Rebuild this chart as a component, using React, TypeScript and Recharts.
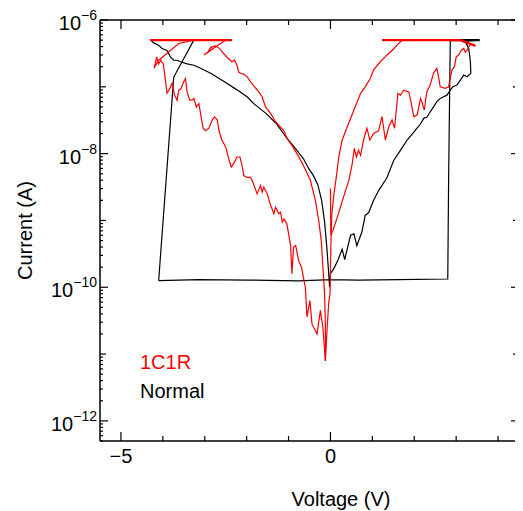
import { Line, LineChart, XAxis, YAxis } from "recharts"

const FONT = '"Liberation Sans", Arial, Helvetica, sans-serif'

// chart geometry (plot box edges inside the svg)
const CHART_W = 515
const CHART_H = 503
const MARGIN = { top: 12, right: 4, bottom: 69, left: 0 }
const PLOT_LEFT = 92
const PLOT_TOP = MARGIN.top
const PLOT_RIGHT = CHART_W - MARGIN.right
const PLOT_BOTTOM = CHART_H - MARGIN.bottom - 1

// x axis (voltage)
const xTicks = [-5, -4, -3, -2, -1, 0, 1, 2, 3, 4]
const xLabeled = [-5, 0]
const xDomain: [number, number] = [-5.5, 4.5]

// y axis (current, log) - decade exponents
const yDecades = [-13, -12, -11, -10, -9, -8, -7, -6]
const yLabeled = [-12, -10, -8, -6]
const yDomain: [number, number] = [5e-13, 1e-6]

// [voltage (V), current (A)]
const normalLoop: [number, number][] = [
  [-4.1, 1.26e-10], [-3.14, 1.3e-10], [-1.95, 1.28e-10], [-0.76, 1.25e-10], [0.0, 1.3e-10],
  [0.67, 1.28e-10], [1.63, 1.3e-10], [2.8, 1.33e-10],
  [2.82, 4.0e-9], [2.86, 5.0e-7], [3.56, 5.0e-7], [3.14, 4.8e-7],
  [3.22, 4.7e-7], [3.3, 3.75e-7], [3.34, 2.37e-7], [3.35, 1.6e-7], [3.26, 1.41e-7], [3.18, 1.5e-7],
  [3.1, 1.26e-7], [3.02, 1.06e-7], [2.92, 1.0e-7], [2.86, 8.9e-8], [2.78, 7.5e-8], [2.7, 7.1e-8],
  [2.62, 6.7e-8], [2.54, 6.0e-8], [2.46, 5.0e-8], [2.38, 4.2e-8], [2.3, 3.5e-8], [2.23, 3.4e-8],
  [2.15, 2.8e-8], [1.99, 2.1e-8], [1.83, 1.6e-8], [1.67, 1.12e-8], [1.51, 7.9e-9], [1.35, 4.4e-9],
  [1.31, 4.0e-9], [1.15, 2.8e-9], [1.03, 2.0e-9], [0.91, 1.3e-9], [0.83, 1.2e-9], [0.75, 6.7e-10],
  [0.63, 4.2e-10], [0.56, 6.3e-10], [0.48, 6.0e-10], [0.34, 2.6e-10], [0.28, 3.7e-10],
  [0.16, 2.4e-10], [0.08, 1.9e-10], [0.0, 1.6e-10], [-0.02, 1.0e-10],
  [-0.05, 1.9e-10], [-0.09, 4.2e-10], [-0.14, 9.5e-10], [-0.21, 2.0e-9], [-0.3, 3.4e-9],
  [-0.4, 4.6e-9], [-0.52, 6.0e-9], [-0.64, 8.3e-9], [-0.8, 1.12e-8], [-1.04, 1.7e-8],
  [-1.3, 2.85e-8], [-1.54, 4.0e-8], [-1.83, 5.6e-8], [-1.99, 7.1e-8], [-2.23, 9.0e-8],
  [-2.54, 1.2e-7], [-2.86, 1.6e-7], [-3.1, 1.9e-7], [-3.26, 2.1e-7], [-3.42, 2.2e-7],
  [-3.58, 2.37e-7], [-3.66, 2.5e-7], [-3.74, 2.5e-7], [-3.82, 2.8e-7], [-3.9, 3.5e-7],
  [-4.02, 3.75e-7], [-4.1, 4.2e-7], [-4.21, 4.5e-7], [-4.29, 5.0e-7],
  [-3.26, 5.0e-7], [-3.74, 1.4e-7], [-4.1, 1.26e-10],
]

const normalCompliance: [number, number][] = [[2.86, 5.0e-7], [3.56, 5.0e-7]]

const c1rComplianceLeft: [number, number][] = [[-4.29, 5.0e-7], [-2.35, 5.0e-7]]
const c1rComplianceRight: [number, number][] = [[1.23, 5.0e-7], [3.1, 5.0e-7], [3.46, 4.1e-7]]

const c1rUpperLeft: [number, number][] = [
  [-2.5, 5.0e-7], [-3.02, 3.0e-7], [-2.82, 3.7e-7], [-2.94, 3.2e-7], [-2.86, 3.9e-7],
  [-2.74, 4.1e-7], [-2.64, 3.7e-7], [-2.56, 3.2e-7], [-2.45, 2.7e-7], [-2.35, 2.37e-7],
  [-2.29, 2.5e-7], [-2.23, 2.1e-7], [-2.19, 1.66e-7], [-2.14, 1.58e-7], [-2.07, 1.55e-7],
  [-1.98, 1.4e-7], [-1.9, 1.17e-7], [-1.83, 1.03e-7], [-1.71, 8.4e-8], [-1.63, 7.1e-8],
  [-1.55, 5.0e-8], [-1.43, 4.0e-8], [-1.31, 3.0e-8], [-1.19, 2.5e-8], [-1.11, 2.2e-8],
  [-1.04, 1.7e-8], [-0.92, 1.33e-8], [-0.8, 1.0e-8], [-0.67, 7.1e-9], [-0.57, 5.3e-9],
  [-0.48, 4.0e-9], [-0.36, 2.0e-9], [-0.28, 1.0e-9], [-0.22, 5.0e-10], [-0.18, 2.0e-10],
  [-0.14, 7.9e-11], [-0.12, 2.5e-11], [-0.12, 7.9e-12],
]

const c1rLowerLeft: [number, number][] = [
  [-3.26, 5.0e-7], [-3.62, 4.45e-7], [-4.1, 2.5e-7], [-4.21, 1.9e-7],
  [-4.17, 2.37e-7], [-4.15, 2.8e-7], [-4.1, 2.2e-7], [-4.05, 2.5e-7], [-3.99, 2.2e-7],
  [-3.96, 1.6e-7], [-3.9, 8.0e-8], [-3.83, 9.5e-8], [-3.78, 1.13e-7], [-3.72, 7.5e-8],
  [-3.66, 6.3e-8], [-3.62, 8.9e-8], [-3.56, 9.5e-8], [-3.52, 1.13e-7], [-3.46, 1.33e-7],
  [-3.42, 8.4e-8], [-3.36, 6.3e-8], [-3.3, 6.3e-8], [-3.26, 6.7e-8], [-3.2, 5.0e-8],
  [-3.14, 5.6e-8], [-3.1, 4.0e-8], [-3.04, 2.4e-8], [-2.98, 2.2e-8], [-2.9, 2.4e-8],
  [-2.82, 3.2e-8], [-2.77, 3.55e-8], [-2.7, 3.2e-8], [-2.66, 2.2e-8], [-2.59, 1.6e-8],
  [-2.5, 1.26e-8], [-2.43, 8.5e-9], [-2.37, 6.3e-9], [-2.31, 7.1e-9], [-2.23, 8.9e-9],
  [-2.16, 8.9e-9], [-2.11, 6.7e-9], [-2.07, 4.7e-9], [-1.99, 4.4e-9], [-1.91, 4.4e-9],
  [-1.87, 4.0e-9], [-1.75, 2.5e-9], [-1.67, 3.35e-9], [-1.63, 2.65e-9], [-1.59, 3.15e-9],
  [-1.51, 2.5e-9], [-1.43, 1.7e-9], [-1.35, 1.26e-9], [-1.31, 1.58e-9], [-1.23, 1.26e-9],
  [-1.19, 1.33e-9], [-1.15, 9.4e-10], [-1.11, 1.05e-9], [-1.04, 8.9e-10], [-0.95, 4.2e-10],
  [-0.92, 1.6e-10], [-0.88, 4.0e-10], [-0.83, 4.2e-10], [-0.76, 2.5e-10], [-0.69, 2.0e-10],
  [-0.64, 1.35e-10], [-0.6, 1.0e-10], [-0.56, 3.6e-11], [-0.49, 6.3e-11], [-0.44, 2.8e-11],
  [-0.32, 2.0e-11], [-0.24, 4.5e-11], [-0.18, 2.5e-11], [-0.12, 7.9e-12],
]

const c1rRightSmooth: [number, number][] = [
  [-0.12, 7.9e-12], [-0.08, 2.4e-11], [-0.04, 6.0e-11], [-0.01, 8.0e-11], [0.01, 4.2e-10],
  [0.03, 1.2e-9], [0.08, 2.4e-9], [0.14, 4.5e-9], [0.2, 9.0e-9], [0.28, 1.6e-8], [0.4, 2.5e-8],
  [0.56, 4.5e-8], [0.72, 8.0e-8], [0.83, 1.0e-7], [0.95, 1.33e-7], [1.03, 1.8e-7],
  [1.19, 2.37e-7], [1.35, 3.0e-7], [1.47, 3.5e-7], [1.59, 4.2e-7], [1.71, 5.0e-7],
]

const c1rRightNoisy: [number, number][] = [
  [0.0, 3.0e-9], [0.01, 6.0e-10], [0.06, 7.1e-10], [0.16, 1.1e-9], [0.24, 1.6e-9],
  [0.36, 2.8e-9], [0.44, 4.0e-9], [0.52, 7.1e-9], [0.57, 1.2e-8], [0.62, 8.9e-9],
  [0.67, 1.12e-8], [0.72, 9.4e-9], [0.79, 1.6e-8], [0.87, 2.4e-8], [0.94, 1.6e-8],
  [1.03, 2.0e-8], [1.15, 2.2e-8], [1.23, 3.6e-8], [1.31, 1.6e-8], [1.39, 2.5e-8],
  [1.47, 3.2e-8], [1.53, 2.4e-8], [1.61, 8.0e-8], [1.67, 7.5e-8], [1.75, 8.9e-8],
  [1.87, 8.4e-8], [1.92, 6.0e-8], [1.99, 3.55e-8], [2.07, 3.8e-8], [2.15, 6.7e-8],
  [2.18, 6.0e-8], [2.24, 4.5e-8], [2.3, 8.4e-8], [2.38, 1.06e-7], [2.46, 1.6e-7],
  [2.54, 1.9e-7], [2.58, 1.41e-7], [2.62, 1.0e-7], [2.74, 9.5e-8], [2.82, 1.0e-7],
  [2.9, 1.8e-7], [2.96, 2.0e-7], [3.0, 2.8e-7], [3.06, 3.0e-7], [3.12, 3.5e-7],
  [3.18, 3.75e-7], [3.22, 3.3e-7], [3.26, 3.5e-7], [3.3, 4.0e-7], [3.34, 4.2e-7],
]

const toPts = (arr: [number, number][]) => arr.map(([v, i]) => ({ v, i }))

const yTicks: number[] = []
yDecades.forEach((k) => {
  for (let m = 1; m <= 9; m++) {
    const val = m * Math.pow(10, k)
    if (val >= yDomain[0] * 0.999 && val <= yDomain[1] * 1.001) yTicks.push(val)
  }
})

const decadeOf = (val: number) => {
  const e = Math.log10(val)
  const k = Math.round(e)
  return Math.abs(e - k) < 1e-6 ? k : null
}

const yTickLen = (val: number) => {
  const k = decadeOf(val)
  if (k === null) return 3
  return yLabeled.includes(k) ? 8 : 6
}

// left ticks, mirrored onto the right frame edge; the first tick also draws the frame box
const YTick = (props: any) => {
  const { x, y, payload, index } = props
  const k = decadeOf(payload.value)
  const labeled = k !== null && yLabeled.includes(k)
  const len = yTickLen(payload.value)
  return (
    <g>
      {index === 0 && (
        <path
          d={`M${PLOT_LEFT},${PLOT_TOP}H${PLOT_RIGHT}V${PLOT_BOTTOM}`}
          fill="none"
          stroke="#000"
          strokeWidth={1.5}
        />
      )}
      <line x1={x} x2={x + len} y1={y} y2={y} stroke="#000" strokeWidth={1.2} />
      <line x1={PLOT_RIGHT} x2={PLOT_RIGHT - len} y1={y} y2={y} stroke="#000" strokeWidth={1.2} />
      {labeled && (
        <text x={x - 3} y={y + 10} textAnchor="end" fontSize={20} fontFamily={FONT} fill="#000">
          <tspan>10</tspan>
          <tspan dy={-10} fontSize={14}>{"\u2212" + Math.abs(k as number)}</tspan>
        </text>
      )}
    </g>
  )
}

// bottom ticks, mirrored onto the top frame edge
const XTick = (props: any) => {
  const { x, y, payload } = props
  const labeled = xLabeled.includes(payload.value)
  const len = labeled ? 9 : 5
  return (
    <g>
      <line x1={x} x2={x} y1={y} y2={y - len} stroke="#000" strokeWidth={1.2} />
      <line x1={x} x2={x} y1={PLOT_TOP} y2={PLOT_TOP + len} stroke="#000" strokeWidth={1.2} />
      {labeled && (
        <text x={x} y={y + 22} textAnchor="middle" fontSize={20} fontFamily={FONT} fill="#000">
          {String(payload.value).replace("-", "\u2212")}
        </text>
      )}
    </g>
  )
}

const lineProps = {
  dataKey: "i",
  type: "linear" as const,
  dot: false,
  isAnimationActive: false,
  strokeWidth: 1.2,
}

export default function App() {
  return (
    <div style={{ width: CHART_W, height: CHART_H }}>
      <LineChart width={CHART_W} height={CHART_H} margin={MARGIN}>
        <XAxis
          dataKey="v"
          type="number"
          domain={xDomain}
          ticks={xTicks}
          interval={0}
          height={1}
          tickSize={0}
          tickMargin={0}
          tickLine={false}
          tick={XTick}
          axisLine={{ stroke: "#000", strokeWidth: 1.5 }}
          allowDataOverflow
        />
        <YAxis
          type="number"
          scale="log"
          domain={yDomain}
          ticks={yTicks}
          interval={0}
          width={92}
          tickSize={0}
          tickMargin={0}
          tickLine={false}
          tick={YTick}
          axisLine={{ stroke: "#000", strokeWidth: 1.5 }}
          allowDataOverflow
        />

        <Line {...lineProps} data={toPts(normalLoop)} stroke="#000" />
        <Line {...lineProps} data={toPts(normalCompliance)} stroke="#000" strokeWidth={2.2} />

        <Line {...lineProps} data={toPts(c1rUpperLeft)} stroke="#ff0000" />
        <Line {...lineProps} data={toPts(c1rLowerLeft)} stroke="#ff0000" />
        <Line {...lineProps} data={toPts(c1rRightSmooth)} stroke="#ff0000" />
        <Line {...lineProps} data={toPts(c1rRightNoisy)} stroke="#ff0000" />
        <Line {...lineProps} data={toPts(c1rComplianceLeft)} stroke="#ff0000" strokeWidth={2.2} />
        <Line {...lineProps} data={toPts(c1rComplianceRight)} stroke="#ff0000" strokeWidth={2.2} />

        <text x={132} y={361} fontSize={20} fontFamily={FONT} fill="#ff0000">
          1C1R
        </text>
        <text x={132} y={390} fontSize={20} fontFamily={FONT} fill="#000">
          Normal
        </text>
        <text x={333} y={498} textAnchor="middle" fontSize={20} fontFamily={FONT} fill="#000">
          Voltage (V)
        </text>
        <text
          x={23.5}
          y={222.5}
          transform="rotate(-90 23.5 222.5)"
          textAnchor="middle"
          fontSize={20}
          fontFamily={FONT}
          fill="#000"
        >
          Current (A)
        </text>
      </LineChart>
    </div>
  )
}
